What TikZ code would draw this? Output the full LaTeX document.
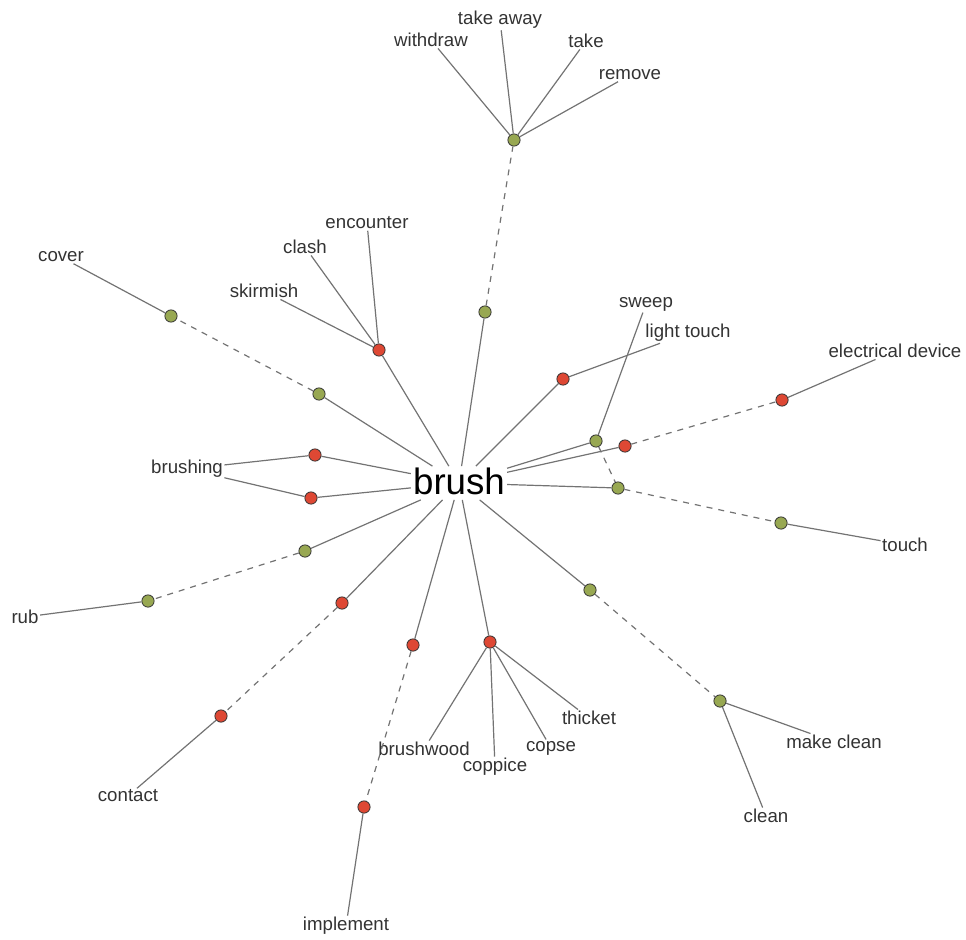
\documentclass[tikz,border=0pt]{standalone}
\usepackage{fontspec}
\setmainfont{Liberation Sans}

\begin{document}
\begin{tikzpicture}[x=0.75pt, y=-0.75pt,
    redpt/.style={circle, draw=black!80, line width=0.6pt, fill={rgb,255:red,222;green,72;blue,52}, inner sep=0pt, minimum size=9.2pt},
    greenpt/.style={circle, draw=black!80, line width=0.6pt, fill={rgb,255:red,152;green,168;blue,82}, inner sep=0pt, minimum size=9.2pt},
    word/.style={inner sep=1pt, text=black!80, font=\fontsize{14}{16}\selectfont},
    link/.style={draw=black!55, line width=0.9pt},
    weak/.style={link, dash pattern=on 4.5pt off 4.5pt}]
  \useasboundingbox (0,0) rectangle (966,939);

  \node[inner sep=1.5pt, text depth=0.2em, font=\fontsize{27.5}{30}\selectfont] (brush) at (459,483) {brush};

  % sense nodes
  \node[greenpt] (g1) at (514,140) {};
  \node[greenpt] (g2) at (485,312) {};
  \node[redpt] (r1) at (379,350) {};
  \node[greenpt] (g3) at (319,394) {};
  \node[greenpt] (g4) at (171,316) {};
  \node[redpt] (r2) at (315,455) {};
  \node[redpt] (r3) at (311,498) {};
  \node[greenpt] (g5) at (148,601) {};
  \node[greenpt] (g6) at (305,551) {};
  \node[redpt] (r4) at (342,603) {};
  \node[redpt] (r5) at (221,716) {};
  \node[redpt] (r6) at (413,645) {};
  \node[redpt] (r7) at (364,807) {};
  \node[redpt] (r8) at (490,642) {};
  \node[greenpt] (g7) at (590,590) {};
  \node[greenpt] (g8) at (720,701) {};
  \node[redpt] (r9) at (563,379) {};
  \node[greenpt] (g9) at (596,441) {};
  \node[greenpt] (g10) at (618,488) {};
  \node[redpt] (r10) at (625,446) {};
  \node[redpt] (r11) at (782,400) {};
  \node[greenpt] (g11) at (781,523) {};

  % words
  \node[word] (withdraw) at (431,40) {withdraw};
  \node[word] (takeaway) at (500,20) {take away};
  \node[word] (take) at (586,41) {take};
  \node[word] (remove) at (630,75) {remove};
  \node[word] (encounter) at (367,223) {encounter};
  \node[word] (clash) at (305,247) {clash};
  \node[word] (skirmish) at (264,291) {skirmish};
  \node[word] (cover) at (61,257) {cover};
  \node[word] (brushing) at (187,469) {brushing};
  \node[word] (rub) at (25,617) {rub};
  \node[word] (contact) at (128,796) {contact};
  \node[word] (implement) at (346,926) {implement};
  \node[word] (brushwood) at (424,749) {brushwood};
  \node[word] (coppice) at (495,767) {coppice};
  \node[word] (copse) at (551,748) {copse};
  \node[word] (thicket) at (589,718) {thicket};
  \node[word] (makeclean) at (834,742) {make clean};
  \node[word] (clean) at (766,816) {clean};
  \node[word] (lighttouch) at (688,333) {light touch};
  \node[word] (sweep) at (646,304) {sweep};
  \node[word] (device) at (895,351) {electrical device};
  \node[word] (touch) at (905,545) {touch};

  % edges
  \foreach \n in {g2,r1,g3,r2,r3,g6,r4,r6,r8,g7,r9,g9,r10,g10}
    \draw[link] (brush) -- (\n);
  \foreach \a/\b in {g2/g1,g3/g4,g6/g5,r4/r5,r6/r7,g7/g8,g9/g10,r10/r11,g10/g11}
    \draw[weak] (\a) -- (\b);
  \foreach \a/\b in {g1/withdraw,g1/takeaway,g1/take,g1/remove,
                     r1/encounter,r1/clash,r1/skirmish,g4/cover,
                     r2/brushing,r3/brushing,g5/rub,r5/contact,r7/implement,
                     r8/brushwood,r8/coppice,r8/copse,r8/thicket,
                     g8/makeclean,g8/clean,r9/lighttouch,g9/sweep,
                     r11/device,g11/touch}
    \draw[link] (\a) -- (\b);
\end{tikzpicture}
\end{document}
